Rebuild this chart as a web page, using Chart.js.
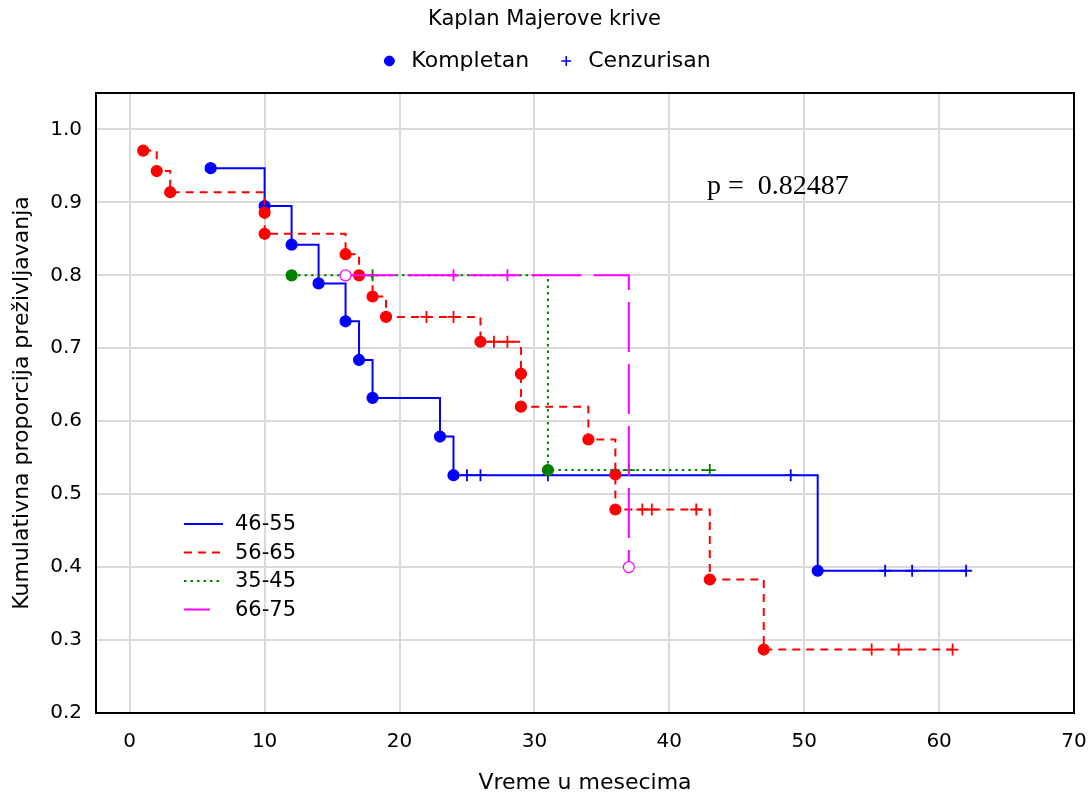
<!DOCTYPE html>
<html>
<head>
<meta charset="utf-8">
<script src="https://cdn.jsdelivr.net/npm/chart.js@4/dist/chart.umd.min.js"></script>
<style>
  body { margin: 0; background: #fff; }
  #wrap { width: 1089px; height: 796px; position: relative; }
</style>
</head>
<body>
<div id="wrap"><canvas id="km-chart"></canvas></div>
<script>
// series labels (legend order)
const groupNames = ['46-55', '56-65', '35-45', '66-75'];

// 46-55
const times4655 = [6, 10, 12, 14, 16, 17, 18, 23, 24, 25, 26, 31, 49, 51, 56, 58, 62];
const surv4655 = [0.947, 0.895, 0.842, 0.789, 0.737, 0.684, 0.632, 0.579, 0.526, 0.526, 0.526, 0.526, 0.526, 0.395, 0.395, 0.395, 0.395];
const cens4655 = [0, 0, 0, 0, 0, 0, 0, 0, 0, 1, 1, 1, 1, 0, 1, 1, 1];

// 56-65
const times5665 = [1, 2, 3, 10, 10, 16, 17, 18, 19, 22, 24, 26, 27, 28, 29, 29, 34, 36, 36, 38, 38.7, 42, 43, 47, 55, 57, 61];
const surv5665 = [0.971, 0.943, 0.914, 0.886, 0.857, 0.829, 0.800, 0.771, 0.743, 0.743, 0.743, 0.709, 0.709, 0.709, 0.665, 0.620, 0.575, 0.527, 0.479, 0.479, 0.479, 0.479, 0.383, 0.287, 0.287, 0.287, 0.287];
const cens5665 = [0, 0, 0, 0, 0, 0, 0, 0, 0, 1, 1, 0, 1, 1, 0, 0, 0, 0, 0, 1, 1, 1, 0, 0, 1, 1, 1];

// 35-45
const times3545 = [12, 18, 31, 37, 43];
const surv3545 = [0.800, 0.800, 0.533, 0.533, 0.533];
const cens3545 = [0, 1, 0, 1, 1];

// 66-75
const times6675 = [16, 24, 28, 37];
const surv6675 = [0.800, 0.800, 0.800, 0.400];
const cens6675 = [0, 1, 1, 0];

const xTicks = [0, 10, 20, 30, 40, 50, 60, 70];
const yTicks = [0.2, 0.3, 0.4, 0.5, 0.6, 0.7, 0.8, 0.9, 1.0];
const pValueText = 'p =  0.82487';

const FONT = 'DejaVu Sans';

function makeSeries(label, times, surv, cens, color, dash, order, hollow) {
    return {
        label: label,
        data: times.map((t, i) => ({x: t, y: surv[i]})),
        stepped: true,
        borderColor: color,
        borderWidth: 2,
        borderDash: dash,
        fill: false,
        order: order,
        pointStyle: cens.map(c => c ? 'cross' : 'circle'),
        pointRadius: cens.map(c => c ? 6 : 5.5),
        pointBorderWidth: cens.map(c => c ? 1.8 : 1.2),
        pointBorderColor: color,
        pointBackgroundColor: hollow ? '#ffffff' : color,
    };
}

const datasets = [
    makeSeries(groupNames[0], times4655, surv4655, cens4655, '#0000ff', [], 4, false),
    makeSeries(groupNames[1], times5665, surv5665, cens5665, '#ff0000', [8, 6], 3, false),
    makeSeries(groupNames[2], times3545, surv3545, cens3545, '#007f00', [2.5, 4], 2, false),
    makeSeries(groupNames[3], times6675, surv6675, cens6675, '#ff00ff', [50, 12], 1, true),
];

// legend of the groups, inside the plot, bottom left
const groupLegend = {
    id: 'groupLegend',
    afterDatasetsDraw(chart) {
        const ctx = chart.ctx;
        const area = chart.chartArea;
        ctx.save();
        datasets.forEach((ds, i) => {
            const y = area.bottom - 189 + 28.5 * i;
            ctx.strokeStyle = ds.borderColor;
            ctx.lineWidth = 2;
            ctx.setLineDash(i === 3 ? [26, 20] : ds.borderDash);
            ctx.beginPath();
            ctx.moveTo(area.left + 88, y);
            ctx.lineTo(area.left + 127, y);
            ctx.stroke();
            ctx.setLineDash([]);
            ctx.fillStyle = '#000';
            ctx.font = '21px "' + FONT + '"';
            ctx.textBaseline = 'middle';
            ctx.textAlign = 'left';
            ctx.fillText(groupNames[i], area.left + 139, y + 1);
        });
        // p value
        const xs = chart.scales.x, ys = chart.scales.y;
        ctx.font = '28px "Liberation Serif"';
        ctx.fillText(pValueText, xs.getPixelForValue(42.8), ys.getPixelForValue(0.921));
        ctx.restore();
    }
};

new Chart(document.getElementById('km-chart').getContext('2d'), {
    type: 'line',
    data: { datasets: datasets },
    options: {
        responsive: true,
        maintainAspectRatio: false,
        animation: false,
        layout: { padding: 0 },
        scales: {
            x: {
                type: 'linear',
                min: -2.5,
                max: 70,
                afterBuildTicks: s => { s.ticks = xTicks.map(v => ({value: v})); },
                afterFit: s => { s.height = 83; s.paddingLeft = 0; s.paddingRight = 0; },
                grid: { color: '#d9d9d9', lineWidth: 2, drawTicks: false },
                border: { color: '#000', width: 2 },
                ticks: { padding: 17, color: '#000', font: { family: FONT, size: 20 } },
                title: {
                    display: true, text: 'Vreme u mesecima', color: '#000',
                    font: { family: FONT, size: 22 }, padding: { top: 0, bottom: 0 }
                }
            },
            y: {
                type: 'linear',
                min: 0.2,
                max: 1.05,
                afterBuildTicks: s => { s.ticks = yTicks.map(v => ({value: v})); },
                afterFit: s => { s.width = 96; s.paddingTop = 0; s.paddingBottom = 0; },
                grid: { color: '#d9d9d9', lineWidth: 2, drawTicks: false },
                border: { color: '#000', width: 2 },
                ticks: {
                    padding: 14, color: '#000', font: { family: FONT, size: 20 },
                    callback: v => v.toFixed(1)
                },
                title: {
                    display: true, text: 'Kumulativna proporcija preživljavanja', color: '#000',
                    font: { family: FONT, size: 22 }, padding: { top: 9, bottom: 0 }
                }
            },
            xTop: {
                type: 'linear', position: 'top',
                afterFit: s => { s.height = 11; },
                grid: { display: false }, ticks: { display: false },
                border: { color: '#000', width: 2 }
            },
            yRight: {
                type: 'linear', position: 'right',
                afterFit: s => { s.width = 15; },
                grid: { display: false }, ticks: { display: false },
                border: { color: '#000', width: 2 }
            }
        },
        plugins: {
            title: {
                display: true,
                text: 'Kaplan Majerove krive',
                color: '#000',
                font: { family: FONT, size: 21, weight: 'normal' },
                padding: { top: 7.4, bottom: -8.6 }
            },
            legend: {
                display: true,
                position: 'top',
                onClick: null,
                labels: {
                    usePointStyle: true,
                    boxWidth: 22,
                    boxHeight: 7,
                    padding: 26,
                    color: '#000',
                    font: { family: FONT, size: 22 },
                    generateLabels: () => [
                        { text: 'Kompletan', pointStyle: 'circle', fillStyle: '#0000ff', strokeStyle: '#0000ff', lineWidth: 1, hidden: false },
                        { text: 'Cenzurisan', pointStyle: 'cross', fillStyle: '#0000ff', strokeStyle: '#0000ff', lineWidth: 1.5, hidden: false }
                    ]
                }
            },
            tooltip: { enabled: false },
        }
    },
    plugins: [groupLegend]
});
</script>
</body>
</html>
